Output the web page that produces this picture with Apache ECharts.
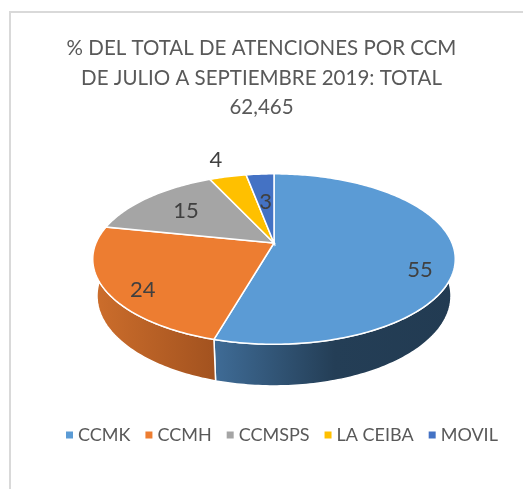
<!DOCTYPE html>
<html>
<head>
<meta charset="utf-8">
<script src="https://cdn.jsdelivr.net/npm/echarts@6/dist/echarts.min.js"></script>
<style>
html,body{margin:0;padding:0;background:#fff;}
#main{width:523px;height:489px;}
</style>
</head>
<body>
<div id="main"></div>
<script>
// data
var categories = ['CCMK', 'CCMH', 'CCMSPS', 'LA CEIBA', 'MOVIL'];
var values = [55, 24, 15, 4, 3];
var titleLines = ['% DEL TOTAL DE ATENCIONES POR CCM', 'DE JULIO A SEPTIEMBRE 2019: TOTAL', '62,465'];

// look
var colors = ['#5B9BD5', '#ED7D31', '#A5A5A5', '#FFC000', '#4472C4'];
var wallStops = [
	[[0, '#3f6c97'], [0.5, '#243e56'], [1, '#223b52']],
	[[0, '#cd6e2c'], [1, '#a2521f']],
	[[0, '#858585'], [1, '#606060']],
	[[0, '#c99800'], [1, '#9c7600']],
	[[0, '#35599a'], [1, '#273f6c']]
];
// label placement: [radius on the disc, how far down the side]
var labelPlace = [[0.82, 0.47], [0.8, 0.25], [0.68, 0], [1.32, 0], [0.55, 0]];

// fake 3d view (perspective, tilted disc)
var cx = 274, cy = 243, K = 178;
var tilt = 27.5 * Math.PI / 180;
var SA = Math.sin(tilt), CA = Math.cos(tilt);
var D = 4.71, H = 0.235;

function proj(deg, r, h) {
	var a = deg * Math.PI / 180;
	var X = r * Math.cos(a), Z = r * Math.sin(a);
	var v = Z * SA - h * CA;
	var w = Z * CA + h * SA;
	var s = D / (D - w);
	return [cx + K * X * s, cy + K * v * s];
}

var total = 0;
for (var i = 0; i < values.length; i++) total += values[i];

function arc(a0, a1, r, h) {
	var pts = [];
	var n = Math.max(2, Math.ceil(Math.abs(a1 - a0)));
	for (var k = 0; k <= n; k++) {
		pts.push(proj(a0 + (a1 - a0) * k / n, r, h));
	}
	return pts;
}

function renderSlice(params, api) {
	var idx = params.seriesIndex;
	var start = api.value(0), val = api.value(1);
	var a0 = -90 + 360 * start / total;
	var a1 = -90 + 360 * (start + val) / total;
	var children = [];

	// outer wall, only the near half is visible
	var b0 = Math.max(a0, 0), b1 = Math.min(a1, 180);
	if (b1 > b0) {
		var topPts = arc(b0, b1, 1, 0);
		var botPts = arc(b1, b0, 1, -H);
		children.push({
			type: 'polygon',
			z2: 0,
			shape: {points: topPts.concat(botPts)},
			style: {
				fill: {type: 'linear', x: 0, y: 0, x2: 1, y2: 0, colorStops: wallStops[idx].map(function (s) { return {offset: s[0], color: s[1]}; })},
				stroke: '#fff',
				lineWidth: 1.5
			}
		});
	}

	// top face
	var pts = [proj(0, 0, 0)].concat(arc(a0, a1, 1, 0));
	children.push({
		type: 'polygon',
		z2: 1,
		shape: {points: pts},
		style: {fill: colors[idx], stroke: '#fff', lineWidth: 1.5}
	});

	// value label
	var lp = proj((a0 + a1) / 2, labelPlace[idx][0], -H * labelPlace[idx][1]);
	children.push({
		type: 'text',
		z2: 2,
		style: {
			text: String(val),
			x: lp[0], y: lp[1],
			align: 'center', verticalAlign: 'middle',
			fill: '#404040',
			font: '22px Lato'
		}
	});
	return {type: 'group', children: children};
}

var series = [];
var cum = 0;
for (var j = 0; j < categories.length; j++) {
	series.push({
		type: 'custom',
		name: categories[j],
		coordinateSystem: 'none',
		itemStyle: {color: colors[j]},
		silent: true,
		renderItem: renderSlice,
		data: [[cum, values[j]]]
	});
	cum += values[j];
}

var chart = echarts.init(document.getElementById('main'));
chart.setOption({
	animation: false,
	backgroundColor: '#fff',
	graphic: [{
		type: 'rect',
		shape: {x: 10, y: 12, width: 700, height: 700},
		style: {fill: 'none', stroke: '#d9d9d9', lineWidth: 2},
		silent: true
	}],
	title: {
		text: titleLines.join('\n'),
		left: 'center',
		top: 29,
		textStyle: {
			fontFamily: 'Lato',
			fontSize: 20.5,
			fontWeight: 'normal',
			color: '#595959',
			lineHeight: 29.5
		}
	},
	legend: {
		top: 426,
		left: 66,
		width: 470,
		padding: 0,
		icon: 'rect',
		itemWidth: 7,
		itemHeight: 7,
		itemGap: 15,
		textStyle: {fontFamily: 'Lato', fontSize: 18, color: '#595959'},
		data: categories
	},
	series: series
});
</script>
</body>
</html>
